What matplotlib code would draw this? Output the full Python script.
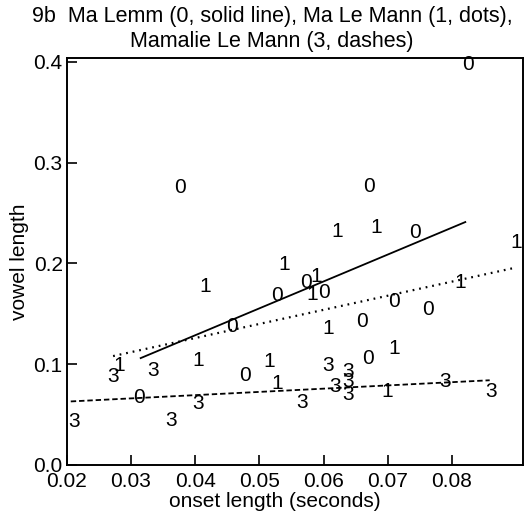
import matplotlib
matplotlib.use("Agg")
import matplotlib.pyplot as plt

plt.rcParams['font.family'] = ['Liberation Sans', 'DejaVu Sans']

# Speaker 0: Ma Lemm
x0 = [0.0377, 0.0825, 0.0671, 0.0743, 0.0572, 0.0600, 0.0528, 0.0457, 0.0710,
      0.0763, 0.0660, 0.0670, 0.0477, 0.0312]
y0 = [0.275, 0.397, 0.276, 0.231, 0.181, 0.171, 0.168, 0.137, 0.162,
      0.154, 0.142, 0.106, 0.089, 0.067]
# Speaker 1: Ma Le Mann
x1 = [0.0621, 0.0682, 0.0901, 0.0538, 0.0415, 0.0589, 0.0583, 0.0813, 0.0607,
      0.0710, 0.0281, 0.0404, 0.0516, 0.0528, 0.0699]
y1 = [0.232, 0.236, 0.221, 0.199, 0.177, 0.187, 0.169, 0.181, 0.135,
      0.116, 0.099, 0.104, 0.103, 0.081, 0.073]
# Speaker 3: Mamalie Le Mann
x3 = [0.0272, 0.0334, 0.0404, 0.0362, 0.0211, 0.0567, 0.0607, 0.0639, 0.0618,
      0.0639, 0.0639, 0.0789, 0.0861]
y3 = [0.088, 0.094, 0.061, 0.044, 0.043, 0.062, 0.099, 0.093, 0.078,
      0.083, 0.070, 0.083, 0.073]

# Regression line endpoints
fit0_x = [0.0315, 0.0821]
fit0_y = [0.106, 0.241]
fit1_x = [0.0272, 0.0901]
fit1_y = [0.108, 0.196]
fit3_x = [0.0206, 0.0859]
fit3_y = [0.063, 0.084]

xticks = [0.02, 0.03, 0.04, 0.05, 0.06, 0.07, 0.08]
yticks = [0.0, 0.1, 0.2, 0.3, 0.4]

fig = plt.figure(figsize=(5.31, 5.16), dpi=100)
ax = fig.add_axes([0.126, 0.099, 0.859, 0.789])

ax.plot(fit0_x, fit0_y, color='black', lw=1.3, linestyle='-')
ax.plot(fit1_x, fit1_y, color='black', lw=1.6, linestyle=(0, (0.8, 2.2)))
ax.plot(fit3_x, fit3_y, color='black', lw=1.3, linestyle=(0, (3, 1.6)))

for xs, ys, lab in [(x0, y0, '0'), (x1, y1, '1'), (x3, y3, '3')]:
    for xv, yv in zip(xs, ys):
        ax.text(xv, yv, lab, ha='center', va='center', fontsize=15)

ax.set_xlim(0.02, 0.0911)
ax.set_ylim(0.0, 0.404)
ax.set_xticks(xticks)
ax.set_xticklabels([f"{v:.2f}" for v in xticks])
ax.set_yticks(yticks)
ax.set_yticklabels([f"{v:.1f}" for v in yticks])
ax.tick_params(direction='in', length=7, width=1.2, labelsize=15, top=False, right=False)
ax.tick_params(axis='x', pad=5)
ax.tick_params(axis='y', pad=3)
for s in ax.spines.values():
    s.set_linewidth(1.4)

ax.set_xlabel('onset length (seconds)', fontsize=15, labelpad=1, x=0.456)
ax.set_ylabel('vowel length', fontsize=15, labelpad=3)
fig.text(0.512, 0.988, '9b  Ma Lemm (0, solid line), Ma Le Mann (1, dots),\nMamalie Le Mann (3, dashes)',
         ha='center', va='top', fontsize=15.5, linespacing=1.22)

fig.savefig('out.png', dpi=100)
